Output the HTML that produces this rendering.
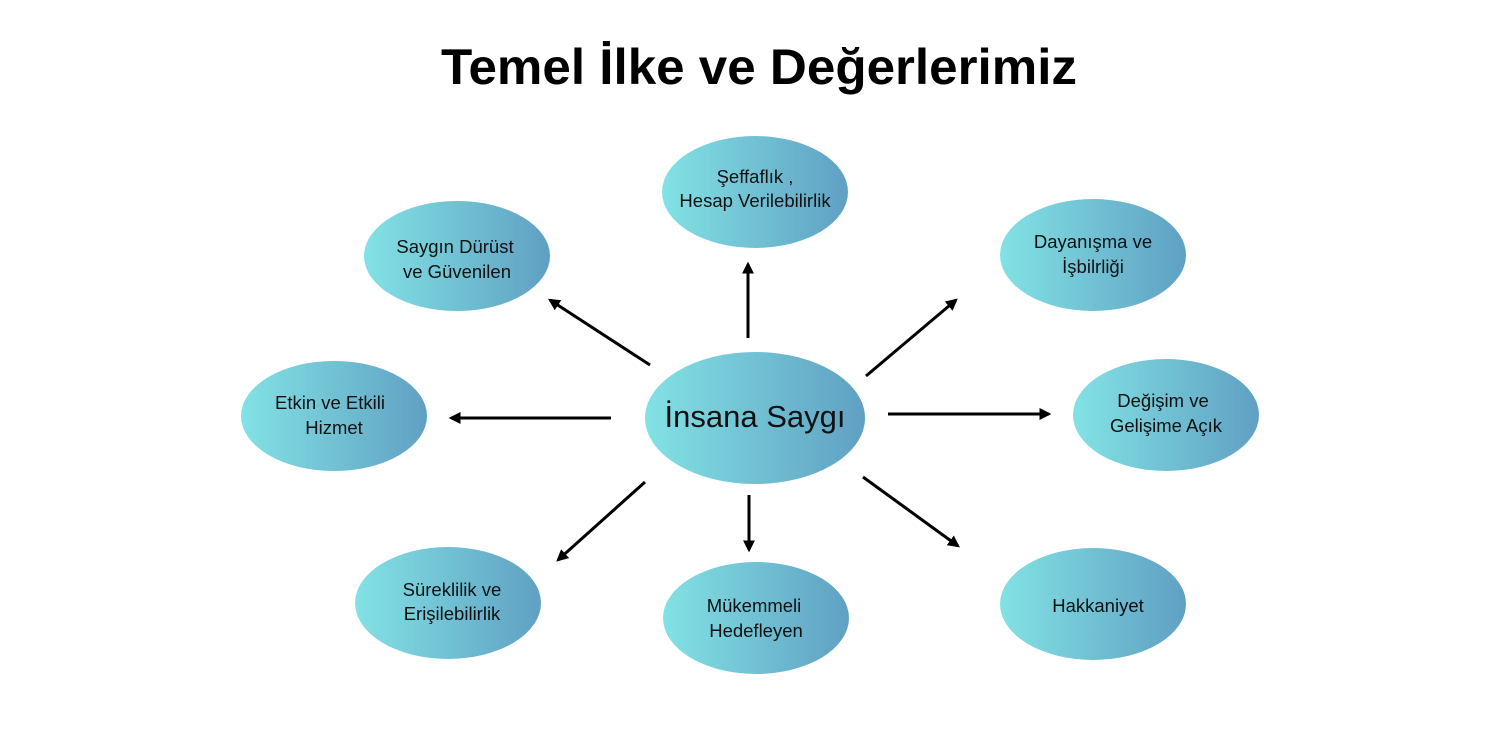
<!DOCTYPE html>
<html><head><meta charset="utf-8"><style>html,body{margin:0;padding:0;background:#fff;width:1500px;height:750px;overflow:hidden}</style></head>
<body>
<svg width="1500" height="750" viewBox="0 0 1500 750" xmlns="http://www.w3.org/2000/svg" font-family="'Liberation Sans', 'DejaVu Sans', sans-serif">
<defs>
<linearGradient id="g" x1="0" y1="0" x2="1" y2="0">
<stop offset="0" stop-color="#82e2e4"/><stop offset="1" stop-color="#60a0c3"/>
</linearGradient>
<marker id="a" viewBox="0 0 10 10" refX="8" refY="5" markerWidth="4" markerHeight="4" orient="auto">
<path d="M0,0 L10,5 L0,10 z" fill="#000"/>
</marker>
</defs>
<text x="759" y="84" text-anchor="middle" font-size="50" font-weight="bold" textLength="636" lengthAdjust="spacingAndGlyphs" fill="#000">Temel İlke ve Değerlerimiz</text>
<g stroke="#000" stroke-width="3" marker-end="url(#a)">
<line x1="748" y1="338" x2="748" y2="264"/>
<line x1="650" y1="365" x2="550" y2="300"/>
<line x1="866" y1="376" x2="956" y2="300"/>
<line x1="611" y1="418" x2="451" y2="418"/>
<line x1="888" y1="414" x2="1049" y2="414"/>
<line x1="645" y1="482" x2="558" y2="560"/>
<line x1="749" y1="495" x2="749" y2="550"/>
<line x1="863" y1="477" x2="958" y2="546"/>
</g>
<g fill="url(#g)">
<ellipse cx="755" cy="418" rx="110" ry="66"/>
<ellipse cx="755" cy="192" rx="93" ry="56"/>
<ellipse cx="457" cy="256" rx="93" ry="55"/>
<ellipse cx="1093" cy="255" rx="93" ry="56"/>
<ellipse cx="334" cy="416" rx="93" ry="55"/>
<ellipse cx="1166" cy="415" rx="93" ry="56"/>
<ellipse cx="448" cy="603" rx="93" ry="56"/>
<ellipse cx="756" cy="618" rx="93" ry="56"/>
<ellipse cx="1093" cy="604" rx="93" ry="56"/>
</g>
<g font-size="18.5" text-anchor="middle" fill="#111">
<text x="755" y="183">Şeffaflık ,</text><text x="755" y="207">Hesap Verilebilirlik</text>
<text x="455" y="253">Saygın Dürüst</text><text x="457" y="278">ve Güvenilen</text>
<text x="1093" y="248">Dayanışma ve</text><text x="1093" y="273">İşbilrliği</text>
<text x="330" y="409">Etkin ve Etkili</text><text x="334" y="434">Hizmet</text>
<text x="1163" y="407">Değişim ve</text><text x="1166" y="432">Gelişime Açık</text>
<text x="452" y="596">Süreklilik ve</text><text x="452" y="620">Erişilebilirlik</text>
<text x="754" y="612">Mükemmeli</text><text x="756" y="637">Hedefleyen</text>
<text x="1098" y="612">Hakkaniyet</text>
</g>
<text x="755" y="427" font-size="31" text-anchor="middle" fill="#111">İnsana Saygı</text>
</svg>
</body></html>
